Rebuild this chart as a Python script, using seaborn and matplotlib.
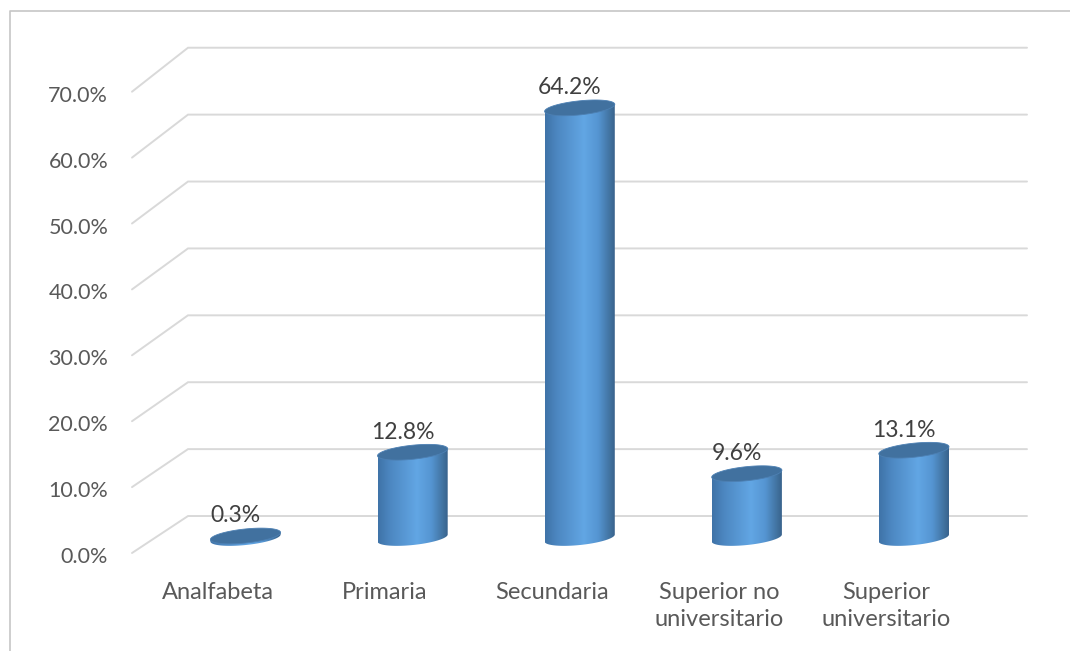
import numpy as np
import matplotlib
matplotlib.use("Agg")
import matplotlib.pyplot as plt
import seaborn as sns
from matplotlib.path import Path
from matplotlib.patches import PathPatch, Polygon
from matplotlib.colors import LinearSegmentedColormap
from matplotlib.lines import Line2D
from matplotlib.transforms import ScaledTranslation

# ---------------- data ----------------
categories = ["Analfabeta", "Primaria", "Secundaria", "Superior no\nuniversitario", "Superior\nuniversitario"]
values = [0.3, 12.8, 64.2, 9.6, 13.1]
tick_values = [0, 10, 20, 30, 40, 50, 60, 70]
tick_labels = [f"{v:.1f}%" for v in tick_values]
value_labels = [f"{v:.1f}%" for v in values]

# ---------------- style ----------------
sns.set_theme(style="white")
plt.rcParams["font.family"] = ["Lato", "DejaVu Sans"]
TXT = "#595959"
LBL = "#404040"
GRID = "#d9d9d9"
FS_Y = 15.5
FS_X = 17
FS_L = 16.5

W, H = 1070, 651
fig = plt.figure(figsize=(W / 100, H / 100), dpi=100)

# axes in pixel placement
ax_l, ax_r, ax_t, ax_b = 120, 1040, 30, 560
ax = fig.add_axes([ax_l / W, 1 - ax_b / H, (ax_r - ax_l) / W, (ax_b - ax_t) / H])

# data->pixel mapping params (perspective of 3D floor/wall)
x0px, xstep = 245.5, 167.1
y0px, ystep = 538.0, 6.7
xlim = ((ax_l - x0px) / xstep, (ax_r - x0px) / xstep)
ylim = ((y0px - ax_b) / ystep, (y0px - ax_t) / ystep)

def back_y(v):
    return 3.28 + 0.9985 * v

def front_y(v):
    return -2.24 + 0.9836 * v

front_x = (132 - x0px) / xstep
back_x = (188 - x0px) / xstep
back_right = (1027 - x0px) / xstep

# gridlines (wall + side diagonals)
for v in tick_values:
    ax.plot([front_x, back_x, back_right], [front_y(v), back_y(v), back_y(v)],
            color=GRID, lw=1.4, zorder=1, clip_on=False, solid_joinstyle="miter")

# bars via seaborn
df_x = list(range(len(categories)))
sns.barplot(x=categories, y=values, width=0.42, ax=ax, color="#5b9bd5", zorder=2)

cmap = LinearSegmentedColormap.from_list(
    "cyl", [(0.0, "#3f73a8"), (0.18, "#4d88c2"), (0.55, "#62a6e4"),
            (0.75, "#5595d2"), (0.92, "#41729f"), (1.0, "#375f88")])
grad = np.linspace(0, 1, 256)[None, :]

skew = 2.49     # data units per category unit (slight tilt of ellipses)
eh = 1.05       # ellipse vertical half-axis in data units

for i, p in enumerate(list(ax.patches)):
    xa = p.get_x()
    w = p.get_width()
    h = p.get_height()
    a = w / 2
    cx = xa + a
    p.set_visible(False)
    t = np.linspace(np.pi, 2 * np.pi, 60)
    bottom = np.column_stack([cx + a * np.cos(t), 0 + eh * np.sin(t) + skew * a * np.cos(t)])
    pts = [(cx - a, h - skew * a)] + [tuple(q) for q in bottom] + [(cx + a, h + skew * a)]
    pts.append(pts[0])
    body = Path(pts, closed=True)
    im = ax.imshow(grad, extent=[cx - a, cx + a, -eh - skew * a - 1, h + skew * a + 1],
                   aspect="auto", cmap=cmap, zorder=3, interpolation="bilinear")
    im.set_clip_path(PathPatch(body, transform=ax.transData))
    tt = np.linspace(0, 2 * np.pi, 100)
    top = np.column_stack([cx + a * np.cos(tt), h + eh * np.sin(tt) + skew * a * np.cos(tt)])
    ax.add_patch(Polygon(top, closed=True, facecolor="#41719f", edgecolor="#4d80b3",
                         lw=0.6, zorder=4))
    ax.annotate(value_labels[i], (cx, h), xytext=(-7, 14.5), textcoords="offset points",
                ha="center", va="center", fontsize=FS_L, color=LBL, zorder=5)

ax.set_xlim(*xlim)
ax.set_ylim(*ylim)
ax.set_yticks([front_y(v) for v in tick_values])
ax.set_yticklabels(tick_labels)
ax.set_xticks(df_x)
ax.set_xticklabels(categories, linespacing=1.36)
ax.tick_params(axis="y", length=0, pad=8.5, labelsize=FS_Y, labelcolor=TXT)
ax.tick_params(axis="x", length=0, pad=15.5, labelsize=FS_X, labelcolor=TXT)
ax.set_xlabel("")
ax.set_ylabel("")
for s in ax.spines.values():
    s.set_visible(False)
ax.patch.set_alpha(0)

# category labels sit slightly left of the cylinders (3D perspective)
xoff = ScaledTranslation(-28 / 100, 0, fig.dpi_scale_trans)
for lab in ax.get_xticklabels():
    lab.set_transform(lab.get_transform() + xoff)
yoff = ScaledTranslation(0, -2 / 100, fig.dpi_scale_trans)
for lab in ax.get_yticklabels():
    lab.set_transform(lab.get_transform() + yoff)

# outer chart border (top and left visible)
fig.add_artist(Line2D([9.5 / W, 9.5 / W, 1.0], [0.0, 1 - 10.5 / H, 1 - 10.5 / H],
                      transform=fig.transFigure, color="#c6c6c6", lw=1.2))

fig.savefig("out.png", dpi=100)
